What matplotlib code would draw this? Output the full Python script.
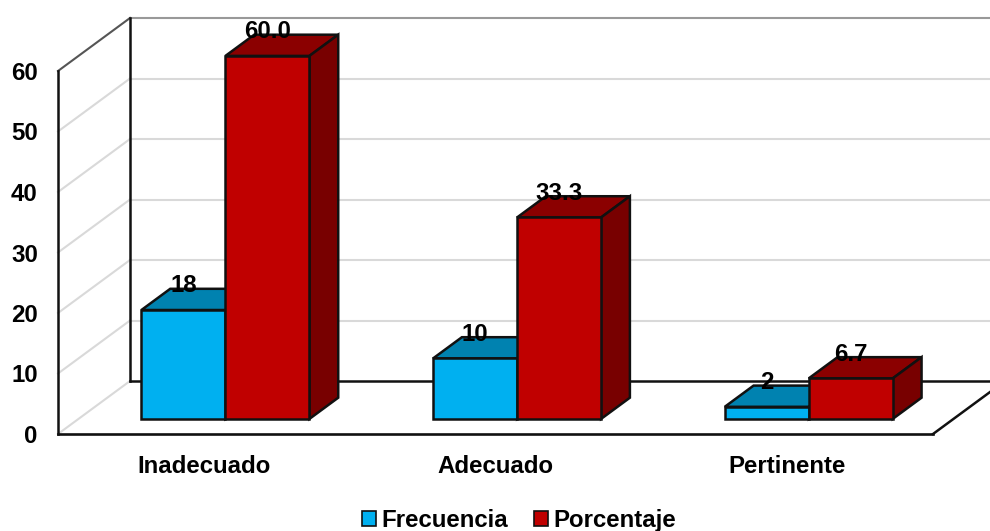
import numpy as np
import matplotlib
matplotlib.use('Agg')
import matplotlib.pyplot as plt
from matplotlib.patches import Polygon, Patch

categorias = ['Inadecuado', 'Adecuado', 'Pertinente']
frecuencia = [18, 10, 2]
porcentaje = [60.0, 33.3, 6.7]
etiq_frec = ['18', '10', '2']
etiq_porc = ['60.0', '33.3', '6.7']
y_ticks = [0, 10, 20, 30, 40, 50, 60]

plt.rcParams['font.family'] = ['Liberation Sans', 'DejaVu Sans']
plt.rcParams['font.weight'] = 'bold'

W, H = 990, 531
fig = plt.figure(figsize=(W / 100, H / 100), dpi=100)
ax = fig.add_axes([58 / W, (H - 434) / H, 875 / W, 363 / H])
ax.set_xlim(-0.5, 2.5)
ax.set_ylim(0, 60)
ax.patch.set_visible(False)
for s in ax.spines.values():
    s.set_visible(False)

# profundidad del suelo/pared en unidades de datos
DX = 72 / (875 / 3)
DY = 53 / (363 / 60)
ancho = 0.288
lift = 0.30
prof = 0.40
fs = 17.3

gris = '#D9D9D9'
negro = '#111111'
xa, xb = -0.5, 2.5

# paredes y rejilla
for v in y_ticks[:-1]:
    ax.plot([xa, xa + DX], [v, v + DY], color=gris, lw=1.5, clip_on=False, zorder=1)
    if v > 0:
        ax.plot([xa + DX, xb + DX], [v + DY, v + DY], color=gris, lw=1.5, clip_on=False, zorder=1)
ax.plot([xa + DX, xb + DX], [60 + DY, 60 + DY], color='#999999', lw=1.5, clip_on=False, zorder=1)
ax.plot([xa, xa + DX], [60, 60 + DY], color='#555555', lw=1.5, clip_on=False, zorder=1)
ax.plot([xa, xa], [0, 60], color=negro, lw=1.8, clip_on=False, zorder=2)
ax.plot([xa + DX, xa + DX], [DY, 60 + DY], color=negro, lw=1.8, clip_on=False, zorder=2)
# suelo
ax.plot([xa + DX, xb + DX], [DY, DY], color=negro, lw=1.8, clip_on=False, zorder=2)
ax.plot([xa, xb], [0, 0], color=negro, lw=1.9, clip_on=False, zorder=2)
ax.plot([xb, xb + DX], [0, DY], color=negro, lw=1.8, clip_on=False, zorder=2)

base = 0.285 * DY
x0 = lift * DX
px, py = prof * DX, prof * DY


def barras(pos, vals, frente, arriba, lado, z):
    ax.bar(pos, vals, ancho, bottom=base, color=frente, edgecolor=negro, linewidth=1.8,
           zorder=z + 1, clip_on=False)
    for x, v in zip(pos, vals):
        l, r, t = x - ancho / 2, x + ancho / 2, base + v
        ax.add_patch(Polygon([(l, t), (r, t), (r + px, t + py), (l + px, t + py)], closed=True,
                             facecolor=arriba, edgecolor=negro, linewidth=1.8, zorder=z, clip_on=False))
        ax.add_patch(Polygon([(r, base), (r + px, base + py), (r + px, t + py), (r, t)], closed=True,
                             facecolor=lado, edgecolor=negro, linewidth=1.8, zorder=z, clip_on=False))


idx = np.arange(len(categorias))
barras(idx + x0 - ancho / 2, frecuencia, '#00B0F0', '#0082B0', '#00668C', 3)
barras(idx + x0 + ancho / 2, porcentaje, '#C00000', '#8B0000', '#780000', 5)

# etiquetas de datos
sube = 24 / (363 / 60)
for x, v, t in zip(idx + x0 - ancho / 2, frecuencia, etiq_frec):
    ax.text(x, base + v + sube, t, ha='center', va='center', fontsize=fs, color='black', zorder=10)
for x, v, t in zip(idx + x0 + ancho / 2, porcentaje, etiq_porc):
    ax.text(x, base + v + sube, t, ha='center', va='center', fontsize=fs, color='black', zorder=10)

ax.set_xticks(idx)
ax.set_xticklabels(categorias, fontsize=fs, fontweight='bold')
ax.set_yticks(y_ticks)
ax.set_yticklabels([str(v) for v in y_ticks], fontsize=fs, fontweight='bold')
ax.tick_params(axis='x', length=0, pad=15)
ax.tick_params(axis='y', length=0, pad=14.5)

handles = [Patch(facecolor='#00B0F0', edgecolor=negro, linewidth=1.2, label='Frecuencia'),
           Patch(facecolor='#C00000', edgecolor=negro, linewidth=1.2, label='Porcentaje')]
fig.legend(handles=handles, loc='lower center', bbox_to_anchor=(519 / W, -0.034), ncols=2, frameon=False,
           fontsize=fs, handlelength=0.58, handleheight=0.58, handletextpad=0.2, columnspacing=1.1,
           borderpad=0.2)

fig.savefig('out.png', dpi=100)
